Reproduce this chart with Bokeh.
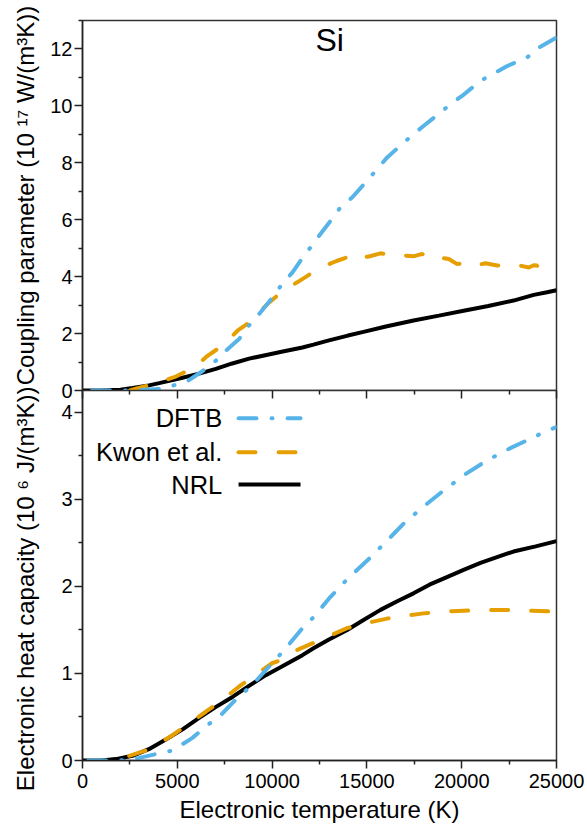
from bokeh.plotting import figure
from bokeh.models import Range1d, FixedTicker, LinearAxis, Label
from bokeh.layouts import column
from bokeh.embed import file_html
from bokeh.resources import INLINE

# ---------------- data ----------------
# Top panel: electron-phonon coupling parameter (10^17 W/(m^3 K))
g_dftb_T = [500, 2000, 3000, 4000, 4570, 5450, 6240, 6945, 7560, 8260, 8700, 9320, 10020, 10460,
            11075, 11500, 12025, 12550, 13080, 13600, 14220, 15010, 15540, 16070, 16860, 17470,
            18000, 18880, 19410, 20020, 20990, 21610, 22400, 23450, 24070, 25000]
g_dftb = [0, 0, 0.01, 0.05, 0.14, 0.29, 0.64, 0.99, 1.40, 1.81, 2.22, 2.69, 3.27, 3.68,
          4.15, 4.56, 5.03, 5.50, 5.96, 6.43, 6.78, 7.37, 7.78, 8.19, 8.66, 9.01,
          9.30, 9.77, 10.06, 10.35, 10.88, 11.11, 11.40, 11.70, 12.05, 12.40]

g_kwon_T = [2500, 2813, 4043, 4922, 5977, 6504, 7100, 7647, 8175, 8700, 9142, 9757, 10300, 10724,
            11322, 11800, 12289, 12816, 13400, 13960, 14223, 14600, 15100, 15716, 16100, 16596,
            17035, 17500, 17914, 18353, 18800, 19320, 19760, 20300, 20730, 21255, 21870, 22485,
            23000, 23540, 23800, 23980, 24050]
g_kwon = [0.0, 0.06, 0.29, 0.49, 0.84, 1.17, 1.45, 1.75, 2.10, 2.35, 2.63, 3.04, 3.35, 3.57,
          3.80, 4.00, 4.21, 4.39, 4.55, 4.68, 4.56, 4.65, 4.71, 4.82, 4.78, 4.80,
          4.74, 4.72, 4.80, 4.62, 4.68, 4.62, 4.44, 4.50, 4.39, 4.47, 4.39, 4.44,
          4.40, 4.32, 4.40, 4.39, 4.15]

g_nrl_T = [0, 1000, 2000, 2637, 3500, 4043, 5274, 6200, 7030, 7900, 8790, 9700, 10500, 11600,
           12180, 13000, 14000, 14820, 16000, 17460, 18800, 20100, 21400, 22730, 23800, 24500, 25000]
g_nrl = [0, 0.0, 0.03, 0.09, 0.18, 0.26, 0.45, 0.60, 0.76, 0.95, 1.12, 1.25, 1.36, 1.51,
         1.61, 1.76, 1.93, 2.06, 2.25, 2.46, 2.63, 2.80, 2.97, 3.16, 3.36, 3.45, 3.52]

# Bottom panel: electronic heat capacity (10^6 J/(m^3 K))
c_dftb_T = [300, 1400, 2286, 3000, 3692, 4746, 5800, 6500, 7382, 8086, 8966, 9845, 10724, 11600,
            12200, 13080, 14000, 15030, 16000, 16930, 18000, 19040, 20200, 21360, 22400, 23470,
            24520, 25000]
c_dftb = [0, 0, 0.005, 0.03, 0.065, 0.115, 0.26, 0.39, 0.54, 0.70, 0.87, 1.08, 1.29, 1.52,
          1.65, 1.88, 2.09, 2.30, 2.51, 2.72, 2.92, 3.10, 3.29, 3.45, 3.57, 3.68,
          3.79, 3.83]

c_kwon_T = [2461, 3340, 4000, 4746, 5600, 6504, 7400, 8262, 9100, 10020, 10600, 11322, 12183,
            13000, 13960, 15000, 16069, 17000, 17984, 19000, 20094, 21200, 22415, 23700, 25000]
c_kwon = [0.054, 0.115, 0.19, 0.29, 0.42, 0.56, 0.70, 0.85, 0.98, 1.12, 1.16, 1.27, 1.35,
          1.43, 1.52, 1.58, 1.63, 1.66, 1.69, 1.71, 1.72, 1.73, 1.73, 1.72, 1.71]

c_nrl_T = [0, 1000, 1758, 2637, 3500, 4393, 5300, 6152, 7000, 7910, 8800, 9670, 10443, 11600,
           12183, 13000, 13960, 14800, 15716, 16600, 17457, 18300, 19250, 20100, 20991, 21900,
           22731, 23900, 25000]
c_nrl = [0, 0.0, 0.016, 0.054, 0.13, 0.24, 0.36, 0.49, 0.61, 0.73, 0.86, 0.98, 1.07, 1.21,
         1.29, 1.39, 1.50, 1.61, 1.73, 1.83, 1.92, 2.02, 2.11, 2.19, 2.27, 2.34,
         2.40, 2.46, 2.52]

x_ticks = [0, 5000, 10000, 15000, 20000, 25000]
x_minor = [2500, 7500, 12500, 17500, 22500]
g_ticks = [0, 2, 4, 6, 8, 10, 12]
g_minor = [1, 3, 5, 7, 9, 11, 13]
c_ticks = [0, 1, 2, 3, 4]
c_minor = [0.5, 1.5, 2.5, 3.5]

series_names = ["DFTB", "Kwon et al.", "NRL"]
panel_title = "Si"
NB = "\u00a0"
# non-breaking spaces nudge each (frame-centred) axis title along its axis, as in the original
g_label = NB * 3 + "Coupling parameter (10 \u00b9\u2077 W/(m\u00b3K))"
c_label = "Electronic heat capacity (10 \u2076 J/(m\u00b3K))" + NB * 4
x_label = "Electronic temperature (K)"

# ---------------- style ----------------
FONT = "Liberation Sans"
BLUE = "#56B4E9"
ORANGE = "#E69F00"
BLACK = "#000000"
DASH_DFTB = "18 15 1 15"
DASH_KWON = "17 23"
LW = 4
AX = "#222222"


def style_axis(ax, ticks, minor):
    ax.ticker = FixedTicker(ticks=ticks, minor_ticks=minor)
    ax.axis_line_color = AX
    ax.axis_line_width = 1.5
    ax.major_tick_line_color = AX
    ax.major_tick_line_width = 1.5
    ax.minor_tick_line_color = AX
    ax.minor_tick_line_width = 1.5
    ax.major_tick_in = 0
    ax.major_tick_out = 8
    ax.minor_tick_in = 0
    ax.minor_tick_out = 4
    ax.major_label_text_font = FONT
    ax.major_label_text_font_size = "20px"
    ax.major_label_text_color = "black"
    ax.axis_label_text_font = FONT
    ax.axis_label_text_font_size = "24px"
    ax.axis_label_text_font_style = "normal"
    ax.axis_label_text_color = "black"


# ---------------- top panel ----------------
top = figure(width=587, height=412, x_range=Range1d(0, 25000), y_range=Range1d(0, 13),
             output_backend="svg", toolbar_location=None, x_axis_location=None,
             min_border_left=82, min_border_right=31, min_border_top=20, min_border_bottom=22)
top.grid.visible = False
top.outline_line_color = "#333333"
top.outline_line_width = 1.5
style_axis(top.yaxis[0], g_ticks, g_minor)
top.yaxis[0].major_label_standoff = 2
top.yaxis[0].axis_label = g_label
top.yaxis[0].axis_label_standoff = 8

top.line(g_nrl_T, g_nrl, line_color=BLACK, line_width=LW)
top.line(g_kwon_T, g_kwon, line_color=ORANGE, line_width=LW, line_dash=DASH_KWON, line_cap="round")
top.line(g_dftb_T, g_dftb, line_color=BLUE, line_width=LW, line_dash=DASH_DFTB, line_cap="round")

top.add_layout(Label(x=12290, y=12.31, text=panel_title, text_font=FONT, text_font_size="32px",
                     text_color="black", text_baseline="alphabetic"))

# ---------------- bottom panel ----------------
# overlaps the upper figure with a transparent border, so the upper panel's "0"
# tick label and axis title stay visible; the two frames meet at y=390
bot = figure(width=587, height=465, x_range=top.x_range, y_range=Range1d(0, 4.25),
             output_backend="svg", toolbar_location=None, margin=(-52, 0, 0, 0),
             border_fill_alpha=0,
             min_border_left=82, min_border_right=31, min_border_top=30, min_border_bottom=65)
bot.grid.visible = False
bot.outline_line_color = "#333333"
bot.outline_line_width = 1.5
style_axis(bot.yaxis[0], c_ticks, c_minor)
bot.yaxis[0].major_label_standoff = 2
bot.yaxis[0].axis_label = c_label
bot.yaxis[0].axis_label_standoff = 19
style_axis(bot.xaxis[0], x_ticks, x_minor)
bot.xaxis[0].major_label_standoff = 5
bot.xaxis[0].axis_label = x_label
bot.xaxis[0].axis_label_standoff = 5

# ticks of the shared boundary (pointing down into the lower panel), no labels
for tk, ln in ((x_ticks, 8), (x_minor, 4)):
    bot.add_layout(LinearAxis(ticker=FixedTicker(ticks=[], minor_ticks=tk),
                              major_label_standoff=0, major_tick_in=0, major_tick_out=0,
                              minor_tick_in=ln, minor_tick_out=0, axis_line_color=None,
                              minor_tick_line_color=AX, minor_tick_line_width=1.5), "above")

bot.line(c_nrl_T, c_nrl, line_color=BLACK, line_width=LW)
bot.line(c_kwon_T, c_kwon, line_color=ORANGE, line_width=LW, line_dash=DASH_KWON, line_cap="round")
bot.line(c_dftb_T, c_dftb, line_color=BLUE, line_width=LW, line_dash=DASH_DFTB, line_cap="round")

# legend (label left of sample line)
leg_text_x = 7370
leg_line_x = [8230, 11500]
leg_y = [3.93, 3.54, 3.17]
leg_styles = [dict(line_color=BLUE, line_dash=DASH_DFTB, line_cap="round"),
              dict(line_color=ORANGE, line_dash=DASH_KWON, line_cap="round"),
              dict(line_color=BLACK)]
for name, yy, st in zip(series_names, leg_y, leg_styles):
    bot.add_layout(Label(x=leg_text_x, y=yy, text=name, text_font=FONT, text_font_size="25.5px",
                         text_color="black", text_align="right", text_baseline="middle"))
    bot.line(leg_line_x, [yy, yy], line_width=LW, **st)

p = column(top, bot)
open("out.html", "w").write(file_html(p, INLINE))
